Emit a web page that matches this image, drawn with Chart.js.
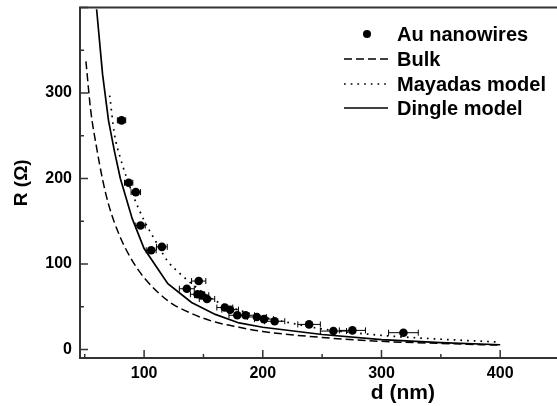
<!DOCTYPE html>
<html>
<head>
<meta charset="utf-8">
<script src="https://cdn.jsdelivr.net/npm/chart.js@4.4.0/dist/chart.umd.min.js"></script>
<style>
  html, body { margin: 0; padding: 0; overflow: hidden; background: #fff; }
</style>
</head>
<body>
<canvas id="myChart" width="730" height="406"></canvas>
<script>
// Au nanowires (measured), d in nm, R in ohm, horizontal error in nm
const wireD = [81, 87, 93, 97, 106, 115, 136, 146, 145, 148.5, 153, 168, 172.5, 178.5, 185.5, 195, 201, 210, 239, 259.5, 275.5, 318.5];
const wireR = [268, 195, 184, 145, 116, 120, 71, 80, 64.5, 63.5, 59, 49, 46.5, 40, 40, 38, 35.5, 33, 29.3, 21.5, 22.3, 19.6];
const wireErr = [3.5, 3.5, 4, 4, 4.2, 4.5, 6.3, 6, 6, 6, 6.5, 6.7, 7, 7, 7.5, 8, 8, 8.5, 9.5, 11, 11, 12.5];

// model curves
const bulkD = [51, 55, 60, 65, 70, 80, 90, 100, 120, 140, 160, 180, 200, 250, 300, 350, 400];
const bulkR = [337, 280, 236, 199, 170, 131, 104, 84, 57, 42, 32, 26, 21, 14, 9.5, 7, 5];
const mayadasD = [71, 75, 80, 90, 100, 110, 120, 130, 140, 160, 180, 200, 225, 250, 300, 350, 400];
const mayadasR = [297, 252, 224, 183, 151, 126, 103, 89, 77, 57, 46, 38, 30.5, 24, 16.5, 12, 8.6];
const dingleD = [60, 65, 70, 75, 80, 90, 100, 120, 140, 160, 180, 200, 250, 300, 350, 400];
const dingleR = [398, 322, 268, 232, 200, 153, 118, 77, 55, 41, 31, 26, 17.5, 11.5, 8, 5.5];

// ticks
const xTickValues = [50, 100, 150, 200, 250, 300, 350, 400, 450, 500, 550];
const xTickLabels = ['', '100', '', '200', '', '300', '', '400', '', '500', ''];
const yTickValues = [0, 50, 100, 150, 200, 250, 300, 350, 400];
const yTickLabels = ['0', '', '100', '', '200', '', '300', '', ''];

const FONT = "'Liberation Sans', Arial, sans-serif";

function toPoints(xs, ys) {
    return xs.map(function (x, i) { return { x: x, y: ys[i] }; });
}

const frame = {
    id: 'frame',
    beforeDatasetsDraw(chart) {
        const ctx = chart.ctx;
        const xs = chart.scales.x, ys = chart.scales.y;
        ctx.save();
        ctx.strokeStyle = '#000';
        ctx.lineWidth = 1;
        wireD.forEach(function (d, i) {
            const x1 = xs.getPixelForValue(d - wireErr[i]);
            const x2 = xs.getPixelForValue(d + wireErr[i]);
            const y = ys.getPixelForValue(wireR[i]);
            ctx.beginPath();
            ctx.moveTo(x1, y); ctx.lineTo(x2, y);
            ctx.moveTo(x1, y - 3); ctx.lineTo(x1, y + 3);
            ctx.moveTo(x2, y - 3); ctx.lineTo(x2, y + 3);
            ctx.stroke();
        });
        ctx.restore();
    },
    afterDraw(chart) {
        const ctx = chart.ctx, a = chart.chartArea;
        const xs = chart.scales.x, ys = chart.scales.y;
        ctx.save();
        // box
        ctx.strokeStyle = '#333';
        ctx.lineWidth = 2;
        ctx.strokeRect(a.left, a.top, a.right - a.left, a.bottom - a.top);
        // inward ticks
        ctx.lineWidth = 1.5;
        ctx.beginPath();
        xTickValues.forEach(function (v, i) {
            const x = xs.getPixelForValue(v);
            const len = xTickLabels[i] ? 8 : 4;
            ctx.moveTo(x, a.bottom); ctx.lineTo(x, a.bottom - len);
        });
        yTickValues.forEach(function (v, i) {
            const y = ys.getPixelForValue(v);
            const len = (v % 100 === 0) ? 8 : 4;
            ctx.moveTo(a.left, y); ctx.lineTo(a.left + len, y);
        });
        ctx.stroke();

        // legend
        const rows = [34, 59, 84, 108];
        ctx.font = 'bold 20px ' + FONT;
        ctx.textBaseline = 'middle';
        ctx.fillStyle = '#000';
        chart.data.datasets.forEach(function (ds, i) {
            const y = rows[i];
            if (ds.showLine) {
                ctx.strokeStyle = '#000';
                ctx.lineWidth = ds.borderWidth;
                ctx.setLineDash(ds.borderDash || []);
                ctx.beginPath();
                ctx.moveTo(344, y); ctx.lineTo(388, y);
                ctx.stroke();
                ctx.setLineDash([]);
            } else {
                ctx.beginPath();
                ctx.arc(367, y, 4, 0, Math.PI * 2);
                ctx.fill();
            }
            ctx.fillText(ds.label, 397, y + 1);
        });
        ctx.restore();
    }
};

let myChart = new Chart(document.getElementById('myChart'), {
    type: 'scatter',
    data: {
        datasets: [{
            label: 'Au nanowires',
            data: toPoints(wireD, wireR),
            pointRadius: 4.3,
            pointBackgroundColor: '#000',
            pointBorderWidth: 0,
            showLine: false
        }, {
            label: 'Bulk',
            data: toPoints(bulkD, bulkR),
            showLine: true,
            borderColor: '#000',
            borderWidth: 1.5,
            borderDash: [8, 4],
            pointRadius: 0,
            cubicInterpolationMode: 'monotone'
        }, {
            label: 'Mayadas model',
            data: toPoints(mayadasD, mayadasR),
            showLine: true,
            borderColor: '#000',
            borderWidth: 1.7,
            borderDash: [1.7, 5],
            pointRadius: 0,
            cubicInterpolationMode: 'monotone'
        }, {
            label: 'Dingle model',
            data: toPoints(dingleD, dingleR),
            showLine: true,
            borderColor: '#000',
            borderWidth: 1.7,
            pointRadius: 0
        }]
    },
    options: {
        responsive: false,
        animation: false,
        layout: { padding: { top: 7.5, right: 4, left: 0, bottom: 0 } },
        plugins: { legend: { display: false }, tooltip: { enabled: false } },
        scales: {
            x: {
                type: 'linear',
                min: 46,
                max: 590,
                afterBuildTicks: function (s) { s.ticks = xTickValues.map(function (v) { return { value: v }; }); },
                afterFit: function (s) { s.height = 48; s.paddingLeft = 0; s.paddingRight = 0; },
                grid: { display: false, drawTicks: false },
                border: { display: false },
                ticks: {
                    padding: 6,
                    color: '#000',
                    font: { family: FONT, size: 16, weight: 'bold' },
                    maxRotation: 0,
                    callback: function (v, i) { return xTickLabels[i]; }
                },
                title: {
                    display: true,
                    text: 'd (nm)',
                    color: '#000',
                    padding: 0,
                    font: { family: FONT, size: 21, weight: 'bold' }
                }
            },
            y: {
                type: 'linear',
                min: -10,
                max: 400,
                afterBuildTicks: function (s) { s.ticks = yTickValues.map(function (v) { return { value: v }; }); },
                afterFit: function (s) { s.width = 80; s.paddingTop = 0; s.paddingBottom = 0; },
                grid: { display: false, drawTicks: false },
                border: { display: false },
                ticks: {
                    padding: 8,
                    color: '#000',
                    font: { family: FONT, size: 16, weight: 'bold' },
                    callback: function (v, i) { return yTickLabels[i]; }
                },
                title: {
                    display: true,
                    text: 'R (\u03A9)',
                    color: '#000',
                    padding: { top: 10, bottom: 0 },
                    font: { family: FONT, size: 19, weight: 'bold' }
                }
            }
        }
    },
    plugins: [frame]
});
</script>
</body>
</html>
